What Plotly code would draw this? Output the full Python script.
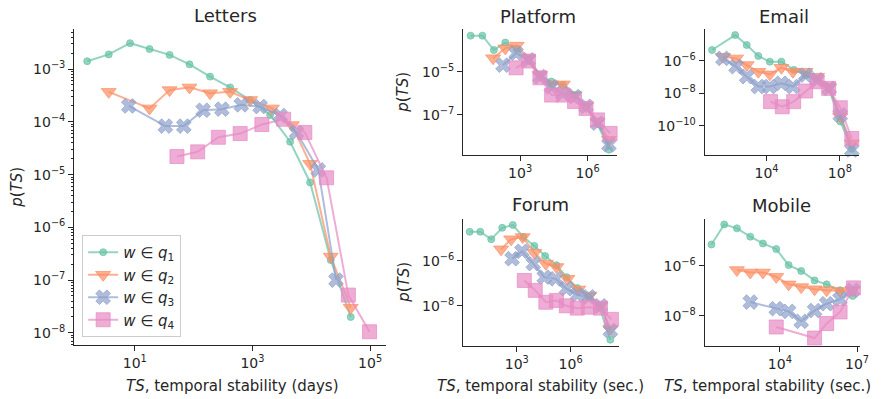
import plotly.graph_objects as go

# ---------------- data ----------------
series_names = ["<i>w</i> ∈ <i>q</i><sub>1</sub>", "<i>w</i> ∈ <i>q</i><sub>2</sub>",
                "<i>w</i> ∈ <i>q</i><sub>3</sub>", "<i>w</i> ∈ <i>q</i><sub>4</sub>"]

# Letters (days)
letters_q1_x = [1.55, 3.6, 8.3, 17.8, 39, 85, 190, 417, 912, 1995, 4365, 9550, 21380, 46770]
letters_q1_y = [1.41e-3, 1.9e-3, 3.1e-3, 2.4e-3, 1.86e-3, 1.23e-3, 7.2e-4, 4.5e-4, 2.6e-4, 1.35e-4, 4.2e-5, 7.1e-6, 2.4e-7, 2.0e-8]
letters_q2_x = [3.6, 17.8, 39, 85, 190, 417, 912, 2140, 4680, 9550, 21380, 46770]
letters_q2_y = [3.7e-4, 1.8e-4, 4.0e-4, 4.5e-4, 3.5e-4, 3.7e-4, 2.6e-4, 1.8e-4, 8.7e-5, 1.6e-5, 2.8e-7, 3.0e-8]
letters_q3_x = [7.9, 33, 68, 145, 302, 646, 1350, 2950, 5620, 13180, 26300]
letters_q3_y = [2.0e-4, 8.3e-5, 8.3e-5, 1.66e-4, 1.74e-4, 2.1e-4, 1.95e-4, 1.32e-4, 6.3e-5, 1.23e-5, 1.0e-7]
letters_q4_x = [52, 117, 263, 617, 1445, 3390, 7760, 18200, 42660, 97700]
letters_q4_y = [2.2e-5, 2.7e-5, 5.1e-5, 6.0e-5, 8.9e-5, 1.12e-4, 6.3e-5, 8.7e-6, 5.2e-8, 1.05e-8]

# Platform (sec.)
platform_q1_x = [6.3, 21, 68, 219, 708, 2340, 7590, 24500, 79400, 263000, 851000, 2.75e6, 8.9e6]
platform_q1_y = [4.6e-4, 4.6e-4, 1.0e-4, 2.2e-4, 1.12e-4, 3.5e-5, 7.1e-6, 3.5e-6, 2.4e-6, 7.9e-7, 2.5e-7, 4.0e-8, 2.5e-9]
platform_q2_x = [63, 219, 708, 2340, 7590, 24500, 79400, 263000, 851000, 2.75e6, 8.9e6]
platform_q2_y = [4.2e-5, 1.2e-4, 1.6e-4, 4.2e-5, 7.1e-6, 2.6e-6, 2.6e-6, 8.3e-7, 2.5e-7, 5.0e-8, 7.1e-9]
platform_q3_x = [174, 661, 2340, 7590, 24500, 79400, 263000, 851000, 2.75e6, 8.9e6]
platform_q3_y = [2.0e-5, 7.1e-5, 3.5e-5, 5.9e-6, 2.0e-6, 1.0e-6, 7.1e-7, 2.5e-7, 4.2e-8, 4.2e-9]
platform_q4_x = [661, 2340, 7590, 25100, 83200, 263000, 851000, 2.75e6, 1.0e7]
platform_q4_y = [1.5e-5, 3.1e-5, 5.2e-6, 8.3e-7, 8.3e-7, 4.2e-7, 2.0e-7, 5.9e-8, 1.4e-8]

# Email (sec.)
email_q1_x = [10.7, 195, 832, 3550, 15100, 64600, 316000, 1.35e6, 5.75e6, 2.45e7, 1.05e8, 4.47e8]
email_q1_y = [4.5e-6, 3.7e-5, 9.1e-6, 1.95e-6, 8.7e-7, 8.7e-7, 2.7e-7, 1.3e-7, 6.6e-8, 2.0e-8, 1.9e-10, 4.0e-12]
email_q2_x = [41.7, 219, 832, 3550, 15100, 64600, 275000, 1.35e6, 5.75e6, 2.45e7, 1.05e8, 4.47e8]
email_q2_y = [1.74e-6, 1.38e-6, 5.4e-7, 2.1e-7, 1.45e-7, 3.7e-7, 2.1e-7, 2.1e-7, 1.05e-7, 2.6e-8, 3.7e-10, 8.7e-12]
email_q3_x = [41.7, 219, 832, 3550, 15100, 64600, 275000, 1.35e6, 5.75e6, 2.63e7, 1.05e8, 4.47e8]
email_q3_y = [1.38e-6, 4.3e-7, 1.05e-7, 2.6e-8, 2.6e-8, 4.1e-8, 2.6e-8, 1.3e-7, 6.6e-8, 2.0e-8, 4.7e-10, 3.4e-12]
email_q4_x = [16600, 72400, 302000, 1.35e6, 5.75e6, 2.45e7, 1.05e8, 4.47e8]
email_q4_y = [3.1e-9, 1.5e-9, 3.1e-9, 1.38e-8, 5.1e-8, 2.0e-8, 1.3e-9, 1.7e-11]

# Forum (sec.)
forum_q1_x = [2.4, 9.3, 38, 155, 603, 2340, 9550, 38000, 162000, 603000, 2.34e6, 1.02e7, 3.98e7, 1.62e8]
forum_q1_y = [2.0e-5, 2.0e-5, 9.3e-6, 3.0e-5, 4.0e-5, 1.17e-5, 4.7e-6, 1.66e-6, 6.5e-7, 1.9e-7, 6.2e-8, 2.5e-8, 8.7e-9, 3.1e-10]
forum_q2_x = [135, 490, 2140, 9550, 41700, 162000, 661000, 2.69e6, 1.12e7, 4.57e7, 1.62e8]
forum_q2_y = [3.3e-6, 9.3e-6, 1.17e-5, 2.3e-6, 7.6e-7, 5.4e-7, 1.6e-7, 5.4e-8, 2.9e-8, 1.0e-8, 9.3e-10]
forum_q3_x = [550, 1950, 8300, 33900, 148000, 575000, 2.34e6, 1.02e7, 4.57e7, 1.62e8]
forum_q3_y = [1.26e-6, 2.7e-6, 7.6e-7, 1.9e-7, 1.6e-7, 5.8e-8, 3.1e-8, 2.5e-8, 1.0e-8, 7.9e-10]
forum_q4_x = [2630, 10700, 41700, 162000, 575000, 2.34e6, 9.55e6, 4.57e7, 1.86e8]
forum_q4_y = [1.35e-7, 4.9e-8, 1.45e-8, 1.74e-8, 1.0e-8, 7.9e-9, 8.7e-9, 7.9e-9, 2.5e-9]

# Mobile (sec.)
mobile_q1_x = [21.9, 69, 214, 708, 2190, 7240, 21900, 67600, 224000, 661000, 2.19e6, 6.76e6]
mobile_q1_y = [7.2e-6, 4.6e-5, 3.2e-5, 1.48e-5, 7.9e-6, 4.7e-6, 1.07e-6, 6.2e-7, 2.6e-7, 1.8e-7, 1.05e-7, 6.2e-8]
mobile_q2_x = [214, 708, 2190, 7240, 21900, 67600, 224000, 661000, 2.19e6, 6.76e6]
mobile_q2_y = [6.8e-7, 5.4e-7, 5.4e-7, 3.6e-7, 1.8e-7, 1.4e-7, 1.15e-7, 1.05e-7, 9.8e-8, 1.05e-7]
mobile_q3_x = [708, 7240, 21900, 67600, 224000, 661000, 2.19e6, 6.76e6]
mobile_q3_y = [3.5e-8, 1.9e-8, 1.48e-8, 5.9e-9, 1.6e-8, 3.0e-8, 4.6e-8, 1.05e-7]
mobile_q4_x = [7240, 224000, 661000, 2.19e6, 7.24e6]
mobile_q4_y = [3.5e-9, 1.26e-9, 4.8e-9, 1.4e-8, 1.3e-7]

panel_titles = ["Letters", "Platform", "Email", "Forum", "Mobile"]

# tick labels
letters_xticks = [10, 1e3, 1e5]
letters_xtext = ["10<sup>1</sup>", "10<sup>3</sup>", "10<sup>5</sup>"]
letters_yticks = [1e-3, 1e-4, 1e-5, 1e-6, 1e-7, 1e-8]
letters_ytext = ["10<sup>−3</sup>", "10<sup>−4</sup>", "10<sup>−5</sup>", "10<sup>−6</sup>", "10<sup>−7</sup>", "10<sup>−8</sup>"]
platform_xticks = [1e3, 1e6]
platform_xtext = ["10<sup>3</sup>", "10<sup>6</sup>"]
platform_yticks = [1e-5, 1e-7]
platform_ytext = ["10<sup>−5</sup>", "10<sup>−7</sup>"]
email_xticks = [1e4, 1e8]
email_xtext = ["10<sup>4</sup>", "10<sup>8</sup>"]
email_yticks = [1e-6, 1e-8, 1e-10]
email_ytext = ["10<sup>−6</sup>", "10<sup>−8</sup>", "10<sup>−10</sup>"]
forum_xticks = [1e3, 1e6]
forum_xtext = ["10<sup>3</sup>", "10<sup>6</sup>"]
forum_yticks = [1e-6, 1e-8]
forum_ytext = ["10<sup>−6</sup>", "10<sup>−8</sup>"]
mobile_xticks = [1e4, 1e7]
mobile_xtext = ["10<sup>4</sup>", "10<sup>7</sup>"]
mobile_yticks = [1e-6, 1e-8]
mobile_ytext = ["10<sup>−6</sup>", "10<sup>−8</sup>"]

# ---------------- styling ----------------
W, H = 881, 399
FONT = "DejaVu Sans"
INK = "#262626"
rgb = [(102, 194, 165), (252, 141, 98), (141, 160, 203), (231, 138, 195)]
ALPHA = 0.7
symbols = ["circle", "triangle-down", "x", "square"]
sizes = [7, 13, 13, 14]


def col(c, a=ALPHA):
    return "rgba(%d,%d,%d,%.2f)" % (c[0], c[1], c[2], a)


def px_x(p):
    return p / W


def px_y(p):
    return 1 - p / H


# panel boxes in pixels: (left, right, top, bottom)
boxes = {
    "": (75, 390, 29, 345),
    "2": (468, 623, 29, 155),
    "3": (712, 868, 29, 155),
    "4": (468, 625, 219, 346),
    "5": (712, 869, 219, 346),
}
ranges = {
    "": ([-0.03, 5.27], [-8.23, -2.24]),
    "2": ([0.47, 7.29], [-8.85, -3.03]),
    "3": ([0.63, 9.05], [-11.78, -4.06]),
    "4": ([0.02, 8.67], [-9.79, -4.13]),
    "5": ([1.08, 7.12], [-9.22, -4.12]),
}
ticks = {
    "": (letters_xticks, letters_xtext, letters_yticks, letters_ytext),
    "2": (platform_xticks, platform_xtext, platform_yticks, platform_ytext),
    "3": (email_xticks, email_xtext, email_yticks, email_ytext),
    "4": (forum_xticks, forum_xtext, forum_yticks, forum_ytext),
    "5": (mobile_xticks, mobile_xtext, mobile_yticks, mobile_ytext),
}

panels = [
    ("", [(letters_q1_x, letters_q1_y), (letters_q2_x, letters_q2_y), (letters_q3_x, letters_q3_y), (letters_q4_x, letters_q4_y)]),
    ("2", [(platform_q1_x, platform_q1_y), (platform_q2_x, platform_q2_y), (platform_q3_x, platform_q3_y), (platform_q4_x, platform_q4_y)]),
    ("3", [(email_q1_x, email_q1_y), (email_q2_x, email_q2_y), (email_q3_x, email_q3_y), (email_q4_x, email_q4_y)]),
    ("4", [(forum_q1_x, forum_q1_y), (forum_q2_x, forum_q2_y), (forum_q3_x, forum_q3_y), (forum_q4_x, forum_q4_y)]),
    ("5", [(mobile_q1_x, mobile_q1_y), (mobile_q2_x, mobile_q2_y), (mobile_q3_x, mobile_q3_y), (mobile_q4_x, mobile_q4_y)]),
]

fig = go.Figure()
for sfx, series in panels:
    for i, (xs, ys) in enumerate(series):
        fig.add_trace(go.Scatter(
            x=xs, y=ys, mode="lines+markers",
            xaxis="x" + sfx, yaxis="y" + sfx,
            name=series_names[i], legendgroup="q%d" % i,
            showlegend=(sfx == ""),
            line=dict(color=col(rgb[i]), width=2),
            marker=dict(symbol=symbols[i], size=sizes[i], color=col(rgb[i]),
                        line=dict(width=1, color=col(rgb[i]))),
            cliponaxis=False,
        ))

layout = dict(
    width=W, height=H,
    margin=dict(l=0, r=0, t=0, b=0),
    paper_bgcolor="white", plot_bgcolor="white",
    font=dict(family=FONT, color=INK, size=14),
    legend=dict(x=px_x(83), y=px_y(235), xanchor="left", yanchor="top",
                bgcolor="rgba(255,255,255,0.8)", bordercolor="#cccccc", borderwidth=1,
                font=dict(size=15, family=FONT, color=INK), itemwidth=30,
                tracegroupgap=0),
)

minor_y = [m * 10.0 ** e for e in range(-9, -1) for m in range(2, 10)]

for sfx, (l, r, t, b) in boxes.items():
    xr, yr = ranges[sfx]
    xt, xtt, yt, ytt = ticks[sfx]
    base = dict(type="log", showline=True, linecolor=INK, linewidth=1.2,
                ticks="outside", ticklen=5, tickwidth=1.2, tickcolor=INK,
                showgrid=False, zeroline=False, tickmode="array",
                tickfont=dict(size=14, family=FONT, color=INK))
    xa = dict(base, domain=[px_x(l), px_x(r)], range=xr, tickvals=xt, ticktext=xtt,
              anchor="y" + sfx)
    ya = dict(base, domain=[px_y(b), px_y(t)], range=yr, tickvals=yt, ticktext=ytt,
              anchor="x" + sfx)
    if sfx == "":
        ya["minor"] = dict(tickmode="array", tickvals=minor_y, ticks="outside",
                           ticklen=2.5, tickwidth=0.8, tickcolor=INK, showgrid=False)
    layout["xaxis" + sfx] = xa
    layout["yaxis" + sfx] = ya

annotations = []
title_pos = [(228, 15), (544, 16), (792, 16), (546, 204), (790, 205)]
for txt, (x, y) in zip(panel_titles, title_pos):
    annotations.append(dict(text=txt, x=px_x(x), y=px_y(y), xref="paper", yref="paper",
                            xanchor="center", yanchor="middle", showarrow=False,
                            font=dict(size=18, family=FONT, color=INK)))
xlabels = [("<i>TS</i>, temporal stability (days)", 235, 386),
           ("<i>TS</i>, temporal stability (sec.)", 546, 386),
           ("<i>TS</i>, temporal stability (sec.)", 775, 386)]
for txt, x, y in xlabels:
    annotations.append(dict(text=txt, x=px_x(x), y=px_y(y), xref="paper", yref="paper",
                            xanchor="center", yanchor="middle", showarrow=False,
                            font=dict(size=15, family=FONT, color=INK)))
ylabels = [(17, 187), (407, 92), (408, 282)]
for x, y in ylabels:
    annotations.append(dict(text="<i>p</i>(<i>TS</i>)", x=px_x(x), y=px_y(y), xref="paper", yref="paper",
                            xanchor="center", yanchor="middle", showarrow=False, textangle=-90,
                            font=dict(size=15, family=FONT, color=INK)))
layout["annotations"] = annotations

fig.update_layout(**layout)
fig.write_html("out.html",
               config={"displayModeBar": False},
               post_script="document.body.style.margin='0px';document.body.style.overflow='hidden';")
